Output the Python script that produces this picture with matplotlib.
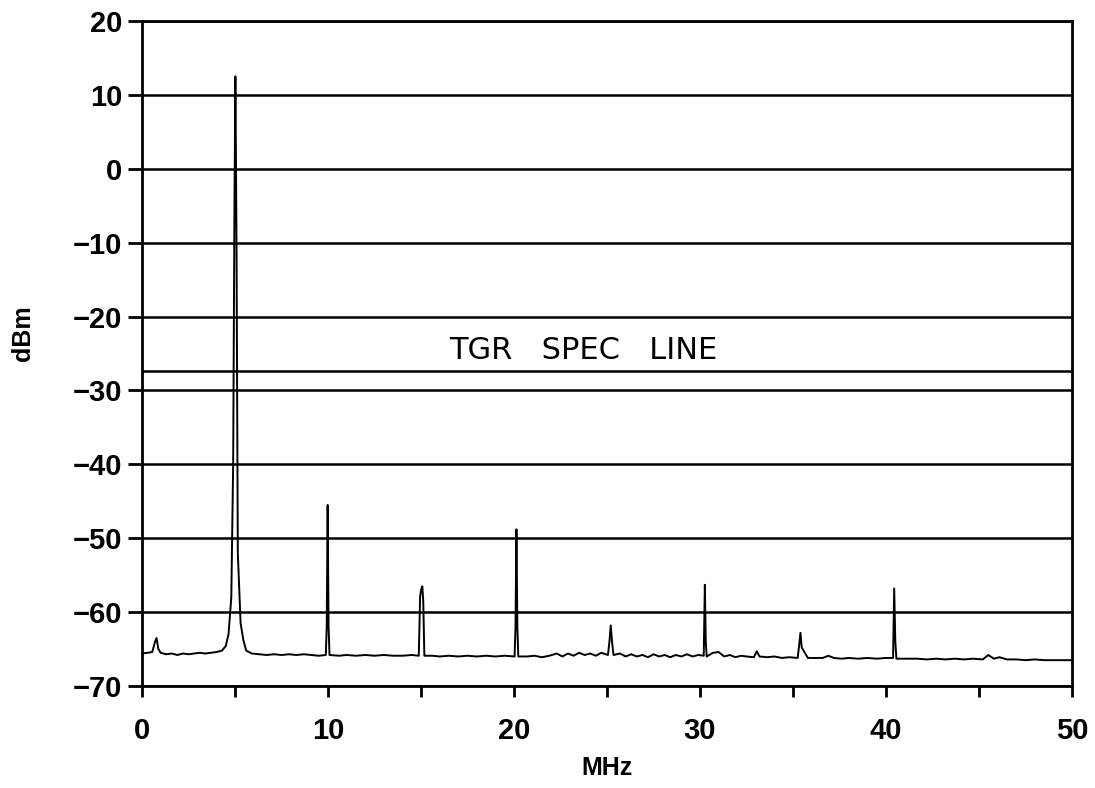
import matplotlib
matplotlib.use("Agg")
import matplotlib.pyplot as plt

# Spectrum trace (MHz, dBm)
freq_mhz = [
    0.0, 0.3, 0.55, 0.7, 0.78, 0.88, 1.0, 1.3, 1.6, 1.9, 2.2, 2.5, 2.8, 3.1, 3.4, 3.7,
    4.0, 4.3, 4.5, 4.65, 4.8, 4.9, 4.97, 5.02, 5.08, 5.15, 5.3, 5.45, 5.6, 5.9, 6.3,
    6.7, 7.1, 7.5, 7.9, 8.3, 8.7, 9.1, 9.5, 9.88, 9.93, 9.98, 10.03, 10.08, 10.6,
    11.0, 11.5, 12.0, 12.5, 13.0, 13.5, 14.0, 14.5, 14.88, 14.95, 15.0, 15.07, 15.12,
    15.18, 15.6, 16.0, 16.5, 17.0, 17.5, 18.0, 18.5, 19.0, 19.5, 20.03, 20.08, 20.13,
    20.18, 20.23, 20.7, 21.1, 21.5, 21.9, 22.3, 22.6, 22.9, 23.2, 23.5, 23.8, 24.1,
    24.4, 24.7, 25.05, 25.13, 25.2, 25.27, 25.35, 25.7, 26.0, 26.3, 26.6, 26.9, 27.2,
    27.5, 27.8, 28.1, 28.4, 28.7, 29.0, 29.3, 29.6, 29.9, 30.2, 30.26, 30.31, 30.36,
    30.7, 31.0, 31.3, 31.6, 31.9, 32.2, 32.5, 32.9, 33.05, 33.2, 33.6, 34.0, 34.4,
    34.8, 35.25, 35.33, 35.4, 35.47, 35.8, 36.2, 36.6, 36.9, 37.2, 37.6, 38.0, 38.5,
    39.0, 39.5, 40.0, 40.38, 40.44, 40.5, 40.56, 40.75, 41.2, 41.7, 42.2, 42.7, 43.2,
    43.7, 44.2, 44.7, 45.2, 45.5, 45.8, 46.1, 46.5, 47.0, 47.5, 48.0, 48.5, 49.0, 49.5,
    50.0,
]
level_dbm = [
    -65.6, -65.5, -65.4, -64.0, -63.5, -65.0, -65.5, -65.7, -65.6, -65.8, -65.6, -65.7,
    -65.6, -65.5, -65.6, -65.5, -65.4, -65.2, -64.6, -63.0, -58.0, -40.0, -5.0, 12.5,
    -10.0, -52.0, -61.5, -63.8, -65.2, -65.6, -65.7, -65.8, -65.7, -65.8, -65.7, -65.8,
    -65.7, -65.8, -65.9, -65.8, -62.0, -45.5, -62.0, -65.8, -65.9, -65.8, -65.9, -65.8,
    -65.9, -65.8, -65.9, -65.9, -65.8, -65.9, -58.0, -57.0, -56.5, -58.5, -65.9, -65.9,
    -66.0, -65.9, -66.0, -65.9, -66.0, -65.9, -66.0, -65.9, -66.0, -62.0, -48.8, -62.0,
    -66.0, -66.0, -65.9, -66.1, -65.9, -65.6, -66.0, -65.6, -65.9, -65.5, -65.8, -65.6,
    -65.9, -65.5, -65.8, -64.0, -61.8, -64.0, -65.8, -65.6, -66.0, -65.7, -66.0, -65.8,
    -66.1, -65.7, -66.0, -65.8, -66.1, -65.8, -66.0, -65.7, -66.0, -65.8, -65.9, -56.3,
    -64.0, -66.0, -65.5, -65.4, -66.0, -65.8, -66.1, -65.9, -66.0, -66.1, -65.3, -66.0,
    -66.1, -66.0, -66.2, -66.1, -66.2, -64.5, -62.8, -64.8, -66.2, -66.2, -66.2, -65.9,
    -66.2, -66.3, -66.2, -66.3, -66.2, -66.3, -66.2, -66.2, -56.8, -64.0, -66.3, -66.3,
    -66.3, -66.3, -66.4, -66.3, -66.4, -66.3, -66.4, -66.3, -66.4, -65.8, -66.3, -66.1,
    -66.4, -66.4, -66.5, -66.4, -66.5, -66.5, -66.5, -66.5,
]

spec_line_dbm = -27.4
spec_label = "TGR   SPEC   LINE"

x_ticks = [0, 5, 10, 15, 20, 25, 30, 35, 40, 45, 50]
x_tick_labels = ["0", "", "10", "", "20", "", "30", "", "40", "", "50"]
y_ticks = [-70, -60, -50, -40, -30, -20, -10, 0, 10, 20]
y_tick_labels = ["\u221270", "\u221260", "\u221250", "\u221240", "\u221230",
                 "\u221220", "\u221210", "0", "10", "20"]

plt.rcParams['font.family'] = ['Liberation Sans', 'DejaVu Sans']

fig = plt.figure(figsize=(10.95, 7.88), dpi=100)
ax = fig.add_axes([0.1297, 0.1294, 0.8493, 0.844])

for y in y_ticks:
    ax.axhline(y, color='black', linewidth=1.8, zorder=1)
ax.axhline(spec_line_dbm, color='black', linewidth=1.8, zorder=1)

ax.plot(freq_mhz, level_dbm, color='black', linewidth=1.4, zorder=2)

ax.text(23.7, -24.6, spec_label, ha='center', va='center', fontsize=22,
        family=['DejaVu Sans'], color='black')

ax.set_xlim(0, 50)
ax.set_ylim(-70, 20)
ax.set_xticks(x_ticks)
ax.set_xticklabels(x_tick_labels)
ax.set_yticks(y_ticks)
ax.set_yticklabels(y_tick_labels)

for sp in ax.spines.values():
    sp.set_linewidth(2.0)

ax.tick_params(axis='x', direction='out', length=8, width=2, pad=14, labelsize=21)
ax.tick_params(axis='y', direction='out', length=10, width=2, pad=4, labelsize=21)
for lab in ax.get_xticklabels() + ax.get_yticklabels():
    lab.set_fontweight('bold')

ax.set_xlabel("MHz", fontsize=18, fontweight='bold', labelpad=8)
ax.set_ylabel("dBm", fontsize=18, fontweight='bold')
ax.yaxis.set_label_coords(-0.115, 0.53)

fig.savefig("out.png", dpi=100, facecolor='white')
